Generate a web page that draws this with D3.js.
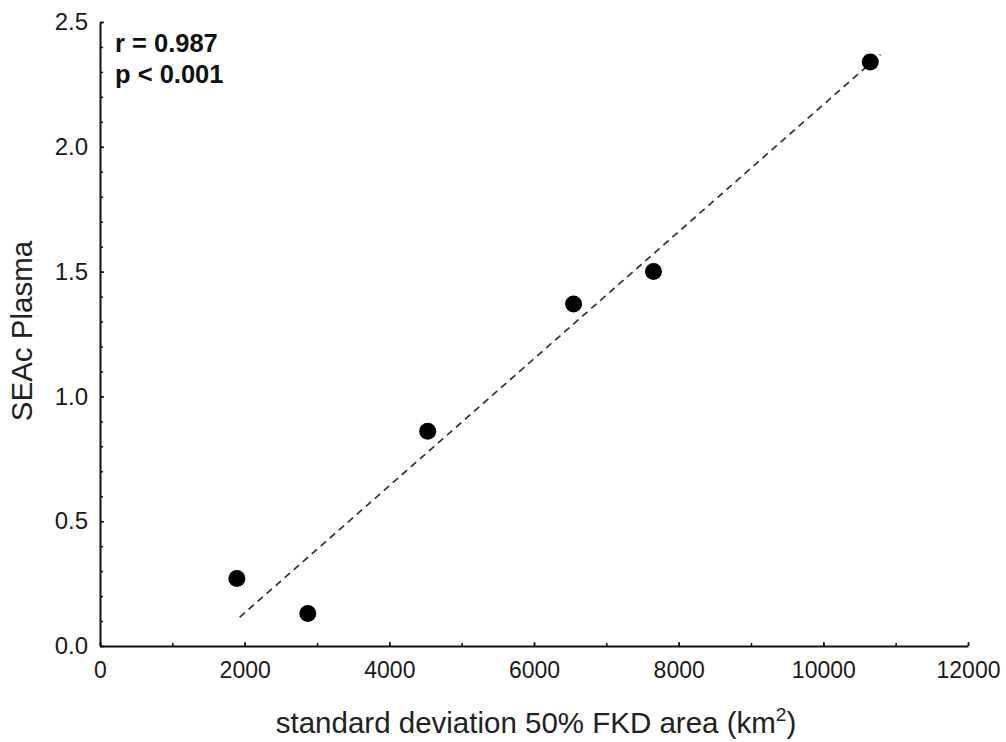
<!DOCTYPE html>
<html><head><meta charset="utf-8">
<script src="https://cdn.jsdelivr.net/npm/d3@7"></script>
<style>body{margin:0;background:#fff;} text{font-family:"Liberation Sans",Arial,sans-serif;}</style>
</head><body>
<svg id="c" width="1006" height="742"></svg>
<script>
const pointsX = [1892, 2873, 4530, 6547, 7652, 10649];
const pointsY = [0.27, 0.13, 0.86, 1.37, 1.50, 2.34];
const trendX = [1930, 10790];
const trendY = [0.115, 2.37];
const xTicks = [0, 2000, 4000, 6000, 8000, 10000, 12000];
const yTicks = [0.0, 0.5, 1.0, 1.5, 2.0, 2.5];
const xMinor = d3.range(0, 12001, 1000);
const yMinor = d3.range(0, 25.01, 1).map(d => d / 10);
const annotations = ["r = 0.987", "p < 0.001"];

const svg = d3.select("#c");
const x = d3.scaleLinear().domain([0, 12000]).range([100, 968]);
const y = d3.scaleLinear().domain([0, 2.5]).range([646, 22]);
const FONT = "Liberation Sans, Arial, sans-serif";

// minor ticks (inward)
const gx = svg.append("g").attr("transform", "translate(0,646)")
  .call(d3.axisBottom(x).tickValues(xMinor).tickSize(-3).tickFormat("").tickSizeOuter(0));
const gy = svg.append("g").attr("transform", "translate(100,0)")
  .call(d3.axisLeft(y).tickValues(yMinor).tickSize(-3).tickFormat("").tickSizeOuter(0));
[gx, gy].forEach(g => {
  g.select(".domain").attr("stroke", "#111").attr("stroke-width", 2);
  g.selectAll(".tick line").attr("stroke", "#111").attr("stroke-width", 1.5);
});
// major ticks + labels
const gx2 = svg.append("g").attr("transform", "translate(0,646)")
  .call(d3.axisBottom(x).tickValues(xTicks).tickSize(-4).tickPadding(16).tickFormat(d3.format("d")).tickSizeOuter(0));
gx2.select(".domain").remove();
gx2.selectAll(".tick line").attr("stroke", "#111").attr("stroke-width", 1.5);
gx2.selectAll("text").attr("font-size", 23).attr("fill", "#1a1a1a").attr("font-family", FONT);
const gy2 = svg.append("g").attr("transform", "translate(100,0)")
  .call(d3.axisLeft(y).tickValues(yTicks).tickSize(-4).tickPadding(12).tickFormat(d3.format(".1f")).tickSizeOuter(0));
gy2.select(".domain").remove();
gy2.selectAll(".tick line").attr("stroke", "#111").attr("stroke-width", 1.5);
gy2.selectAll("text").attr("font-size", 24).attr("fill", "#1a1a1a").attr("font-family", FONT);

// trend line
svg.append("line")
  .attr("x1", x(trendX[0])).attr("y1", y(trendY[0]))
  .attr("x2", x(trendX[1])).attr("y2", y(trendY[1]))
  .attr("stroke", "#333").attr("stroke-width", 1.7).attr("stroke-dasharray", "7,5");

// points
svg.append("g").selectAll("circle").data(pointsX).join("circle")
  .attr("cx", d => x(d)).attr("cy", (d, i) => y(pointsY[i]))
  .attr("r", 8.5).attr("fill", "#000");

// annotations
svg.append("g").selectAll("text").data(annotations).join("text")
  .attr("x", 115).attr("y", (d, i) => 52 + i * 31)
  .attr("font-size", 25.5).attr("font-weight", "bold").attr("fill", "#111")
  .text(d => d);

// axis labels
svg.append("text").attr("transform", "translate(32,331) rotate(-90)")
  .attr("text-anchor", "middle").attr("font-size", 29.5).attr("fill", "#222")
  .text("SEAc Plasma");
const xl = svg.append("text").attr("x", 536).attr("y", 733)
  .attr("text-anchor", "middle").attr("font-size", 29.5).attr("fill", "#222");
xl.append("tspan").text("standard deviation 50% FKD area (km");
xl.append("tspan").attr("dy", -12).attr("font-size", 19).text("2");
xl.append("tspan").attr("dy", 12).text(")");
</script>
</body></html>
